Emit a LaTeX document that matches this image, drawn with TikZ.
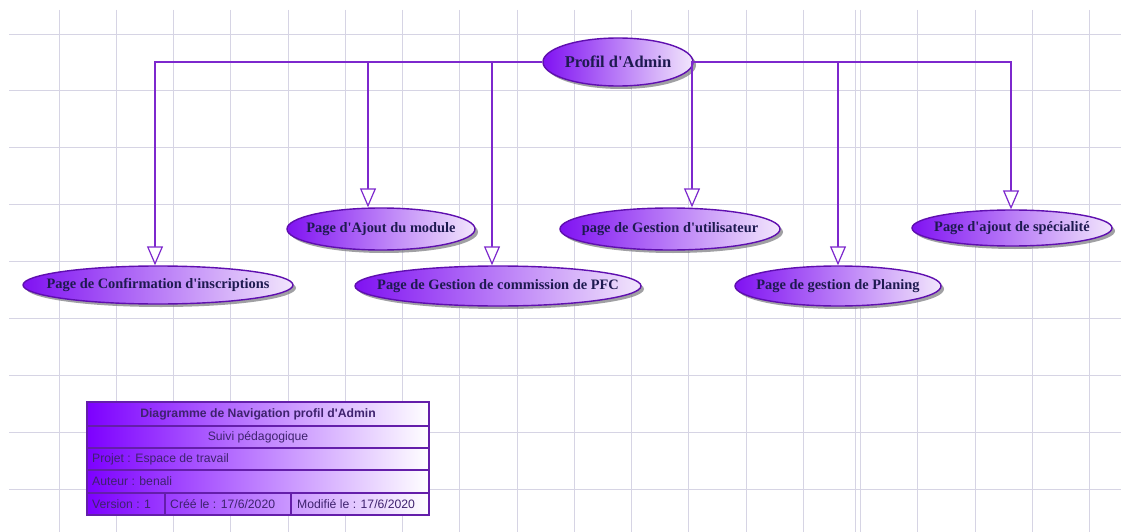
\documentclass[tikz,border=0pt]{standalone}
\usepackage{fontspec}
\setmainfont{Liberation Serif}
\setsansfont{Liberation Sans}
\usetikzlibrary{shapes.geometric,arrows.meta,shadows}

\definecolor{gridcol}{RGB}{214,212,228}
\definecolor{linkcol}{RGB}{125,40,205}
\definecolor{ellborder}{RGB}{95,15,175}
\definecolor{ellleft}{RGB}{128,18,242}
\definecolor{ellright}{RGB}{242,230,252}
\definecolor{navytext}{RGB}{30,26,80}
\definecolor{shadowgray}{RGB}{110,110,115}
\definecolor{blockleft}{RGB}{125,0,255}
\definecolor{blockline}{RGB}{100,30,170}
\definecolor{blocktext}{RGB}{62,34,110}

\newcommand\apos{\textquotesingle}

\begin{document}
\begin{tikzpicture}[x=1pt,y=-1pt,
  gridline/.style={draw=gridcol, line width=0.9pt},
  pagenode/.style={ellipse, draw=ellborder, line width=1.4pt,
    left color=ellleft, right color=ellright, inner sep=0pt,
    text=navytext, font=\bfseries\fontsize{14.4}{16}\selectfont,
    drop shadow={shadow xshift=3pt, shadow yshift=-3pt, fill=shadowgray, opacity=0.65}},
  link/.style={draw=linkcol, line width=2pt,
    -{Triangle[length=19pt, width=16pt, fill=white, line width=1.2pt]}},
  blocktxt/.style={font=\sffamily\fontsize{12.2}{14}\selectfont, text=blocktext, inner sep=0pt},
]
\useasboundingbox (0,0) rectangle (1121,532);
\fill[white] (0,0) rectangle (1121,532);

% background grid
\foreach \i in {0,...,18}
  \draw[gridline] (59+\i*57.25,10) -- (59+\i*57.25,532);
\draw[gridline] (855.5,10) -- (855.5,532);
\foreach \j in {0,...,8}
  \draw[gridline] (9,34+\j*56.9) -- (1121,34+\j*56.9);

% pages
\node[pagenode, minimum width=150, minimum height=48,
      font=\bfseries\fontsize{16.5}{18}\selectfont] (profil) at (618,62)
  {\makebox[0pt]{Profil d\apos Admin}};
\node[pagenode, minimum width=270, minimum height=38] (confirm) at (158,285)
  {\makebox[0pt]{Page de Confirmation d\apos inscriptions}};
\node[pagenode, minimum width=188, minimum height=42] (ajout) at (381,229)
  {\makebox[0pt]{Page d\apos Ajout du module}};
\node[pagenode, minimum width=286, minimum height=40] (pfc) at (498,286)
  {\makebox[0pt]{Page de Gestion de commission de PFC}};
\node[pagenode, minimum width=220, minimum height=42] (util) at (670,229)
  {\makebox[0pt]{page de Gestion d\apos utilisateur}};
\node[pagenode, minimum width=206, minimum height=40] (planing) at (838,286)
  {\makebox[0pt]{Page de gestion de Planing}};
\node[pagenode, minimum width=200, minimum height=36] (special) at (1012,228)
  {\makebox[0pt]{Page d\apos ajout de spécialité}};

% navigation links
\draw[link] (profil.west) -| ([xshift=-3pt]confirm.north);
\draw[link] (profil.west) -| ([xshift=-13pt]ajout.north);
\draw[link] (profil.west) -| ([xshift=-6pt]pfc.north);
\draw[link] (profil.east) -| ([xshift=22pt]util.north);
\draw[link] (profil.east) -| (planing.north);
\draw[link] (profil.east) -| ([xshift=-1pt]special.north);

% title block
\shade[left color=blockleft, right color=white] (87,402) rectangle (429,515);
\begin{scope}[draw=blockline, line width=1.3pt]
  \draw (87,402) rectangle (429,515);
  \draw (87,426) -- (429,426);
  \draw (87,448) -- (429,448);
  \draw (87,470) -- (429,470);
  \draw (87,493) -- (429,493);
  \draw (165,493) -- (165,515);
  \draw (291,493) -- (291,515);
\end{scope}
\node[blocktxt, font=\sffamily\bfseries\fontsize{12.2}{14}\selectfont] (tbtitle) at (258,414)
  {Diagramme de Navigation profil d\apos Admin};
\node[blocktxt] (tbsub) at (258,437) {Suivi pédagogique};
\node[blocktxt, anchor=west] (tbproj) at (92,459) {Projet : Espace de travail};
\node[blocktxt, anchor=west] (tbauth) at (92,481.5) {Auteur : benali};
\node[blocktxt, anchor=west] (tbver) at (92,504) {Version : 1};
\node[blocktxt, anchor=west] (tbcree) at (170,504) {Créé le : 17/6/2020};
\node[blocktxt, anchor=west] (tbmod) at (297,504) {Modifié le : 17/6/2020};
\end{tikzpicture}
\end{document}
